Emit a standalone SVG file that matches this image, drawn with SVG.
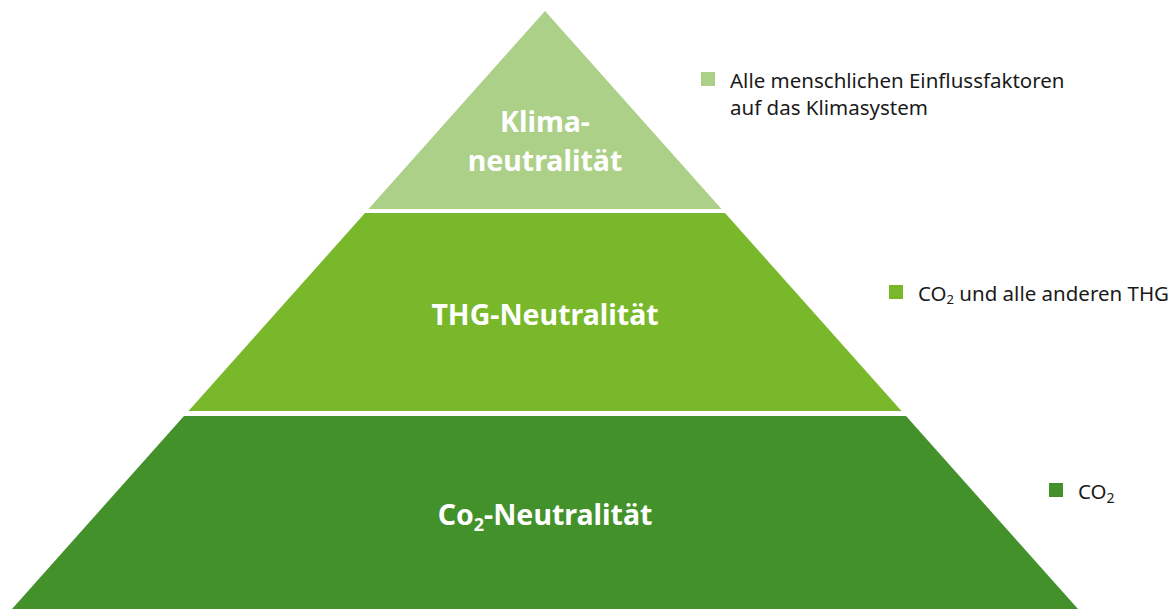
<svg xmlns="http://www.w3.org/2000/svg" width="1171" height="609" viewBox="0 0 1171 609">
<style>
.lbl{font-family:"Noto Sans","Open Sans",sans-serif;font-weight:bold;font-size:28.5px;fill:#fff;text-anchor:middle}
.leg{font-family:"Noto Sans","Open Sans",sans-serif;font-size:20.5px;fill:#1a1a1a}
</style>
<rect width="1171" height="609" fill="#fff"/>
<g id="klima">
<polygon points="545,11 721.5,209 368.5,209" fill="#acd088"/>
<text class="lbl" x="545" y="132">Klima-</text>
<text class="lbl" x="545" y="171">neutralität</text>
</g>
<g id="thg">
<polygon points="365,213 725,213 901.5,411 188.5,411" fill="#78b82a"/>
<text class="lbl" x="545" y="325">THG-Neutralität</text>
</g>
<g id="co2">
<polygon points="184,416 906,416 1078,609 12,609" fill="#43912a"/>
<text class="lbl" x="545" y="525">Co<tspan font-size="18" dy="6">2</tspan><tspan dy="-6">-Neutralität</tspan></text>
</g>
<g id="legend1">
<rect x="701" y="72" width="14" height="14" fill="#acd088"/>
<text class="leg" x="730" y="88">Alle menschlichen Einflussfaktoren</text>
<text class="leg" x="730" y="115">auf das Klimasystem</text>
</g>
<g id="legend2">
<rect x="889" y="285" width="14" height="14" fill="#78b82a"/>
<text class="leg" x="918" y="301">CO<tspan font-size="13" dy="3">2</tspan><tspan dy="-3"> und alle anderen THG</tspan></text>
</g>
<g id="legend3">
<rect x="1049" y="483" width="14" height="14" fill="#43912a"/>
<text class="leg" x="1078" y="499">CO<tspan font-size="14" dy="4">2</tspan></text>
</g>
<g id="connectors"/>
</svg>
